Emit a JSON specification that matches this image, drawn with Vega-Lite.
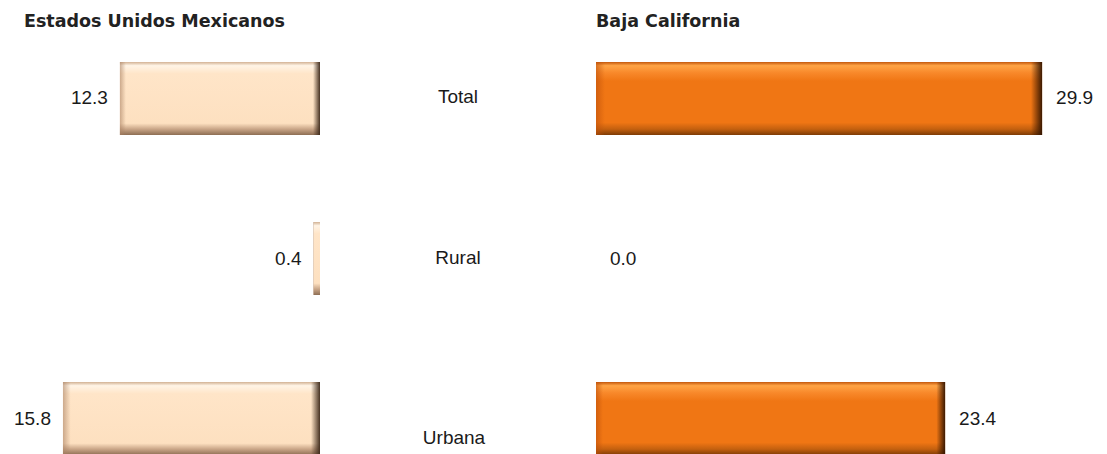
{
  "$schema": "https://vega.github.io/schema/vega-lite/v6.json",
  "padding": {"left": 0, "top": 12, "right": 0, "bottom": 0},
  "spacing": 0,
  "background": "white",
  "config": {
    "view": {"stroke": null},
    "font": "Liberation Sans",
    "concat": {"spacing": 0},
    "text": {"font": "Liberation Sans", "fontSize": 19, "color": "#1a1a1a"},
    "title": {"font": "DejaVu Sans", "fontSize": 17.5, "fontWeight": "bold", "color": "#222222", "anchor": "start", "offset": 32}
  },
  "datasets": {
    "d": [
      {"cat": "Total", "eum": 12.3, "bc": 29.9},
      {"cat": "Rural", "eum": 0.4, "bc": 0.0},
      {"cat": "Urbana", "eum": 15.8, "bc": 23.4}
    ]
  },
  "hconcat": [
    {
      "width": 320,
      "height": 393,
      "title": {"text": "Estados Unidos Mexicanos", "dx": 24},
      "data": {"name": "d"},
      "encoding": {
        "y": {"field": "cat", "type": "nominal", "axis": null,
              "scale": {"type": "band", "domain": ["Total", "Rural", "Urbana"], "paddingInner": 0.544, "paddingOuter": 0}},
        "x": {"field": "eum", "type": "quantitative", "axis": null,
              "scale": {"domain": [0, 19.67], "reverse": true, "nice": false, "zero": true}}
      },
      "layer": [
        {
          "mark": {"type": "bar", "cornerRadius": 0,
            "color": {"gradient": "linear", "x1": 0, "y1": 0, "x2": 0, "y2": 1,
              "stops": [
                {"offset": 0, "color": "#d2b294"},
                {"offset": 0.05, "color": "#fff4e6"},
                {"offset": 0.16, "color": "#ffe5c8"},
                {"offset": 0.84, "color": "#fde0c0"},
                {"offset": 0.92, "color": "#c9a587"},
                {"offset": 1, "color": "#8e6e54"}
              ]}}
        },
        {
          "mark": {"type": "bar",
            "color": {"gradient": "linear", "x1": 0, "y1": 0, "x2": 1, "y2": 0,
              "stops": [
                {"offset": 0, "color": "rgba(170,130,100,0.6)"},
                {"offset": 0.03, "color": "rgba(170,130,100,0)"},
                {"offset": 0.965, "color": "rgba(60,40,25,0)"},
                {"offset": 1, "color": "rgba(60,40,25,0.95)"}
              ]}}
        },
        {
          "mark": {"type": "text", "align": "right", "baseline": "middle", "dx": -12},
          "encoding": {"text": {"field": "eum", "type": "quantitative", "format": ".1f"}}
        }
      ]
    },
    {
      "width": 276,
      "height": 393,
      "data": {"name": "d"},
      "encoding": {
        "y": {"field": "cat", "type": "nominal", "axis": null,
              "scale": {"type": "band", "domain": ["Total", "Rural", "Urbana"], "paddingInner": 0.544, "paddingOuter": 0}},
        "text": {"field": "cat", "type": "nominal"}
      },
      "layer": [
        {
          "transform": [{"filter": "datum.cat !== 'Urbana'"}],
          "mark": {"type": "text", "align": "center", "baseline": "middle", "dy": -1}
        },
        {
          "transform": [{"filter": "datum.cat === 'Urbana'"}],
          "mark": {"type": "text", "align": "center", "baseline": "middle", "dx": -4, "dy": 19}
        }
      ]
    },
    {
      "width": 511,
      "height": 393,
      "title": {"text": "Baja California"},
      "data": {"name": "d"},
      "encoding": {
        "y": {"field": "cat", "type": "nominal", "axis": null,
              "scale": {"type": "band", "domain": ["Total", "Rural", "Urbana"], "paddingInner": 0.544, "paddingOuter": 0}},
        "x": {"field": "bc", "type": "quantitative", "axis": null,
              "scale": {"domain": [0, 34.25], "nice": false, "zero": true}}
      },
      "layer": [
        {
          "mark": {"type": "bar",
            "color": {"gradient": "linear", "x1": 0, "y1": 0, "x2": 0, "y2": 1,
              "stops": [
                {"offset": 0, "color": "#c4580c"},
                {"offset": 0.05, "color": "#ffa445"},
                {"offset": 0.15, "color": "#f8882a"},
                {"offset": 0.26, "color": "#f07614"},
                {"offset": 0.83, "color": "#f07614"},
                {"offset": 0.92, "color": "#c4600f"},
                {"offset": 1, "color": "#7e3c06"}
              ]}}
        },
        {
          "mark": {"type": "bar",
            "color": {"gradient": "linear", "x1": 0, "y1": 0, "x2": 1, "y2": 0,
              "stops": [
                {"offset": 0, "color": "rgba(190,80,10,0.6)"},
                {"offset": 0.02, "color": "rgba(190,80,10,0)"},
                {"offset": 0.975, "color": "rgba(50,20,0,0)"},
                {"offset": 1, "color": "rgba(50,20,0,0.95)"}
              ]}}
        },
        {
          "mark": {"type": "text", "align": "left", "baseline": "middle", "dx": 14},
          "encoding": {"text": {"field": "bc", "type": "quantitative", "format": ".1f"}}
        }
      ]
    }
  ]
}
